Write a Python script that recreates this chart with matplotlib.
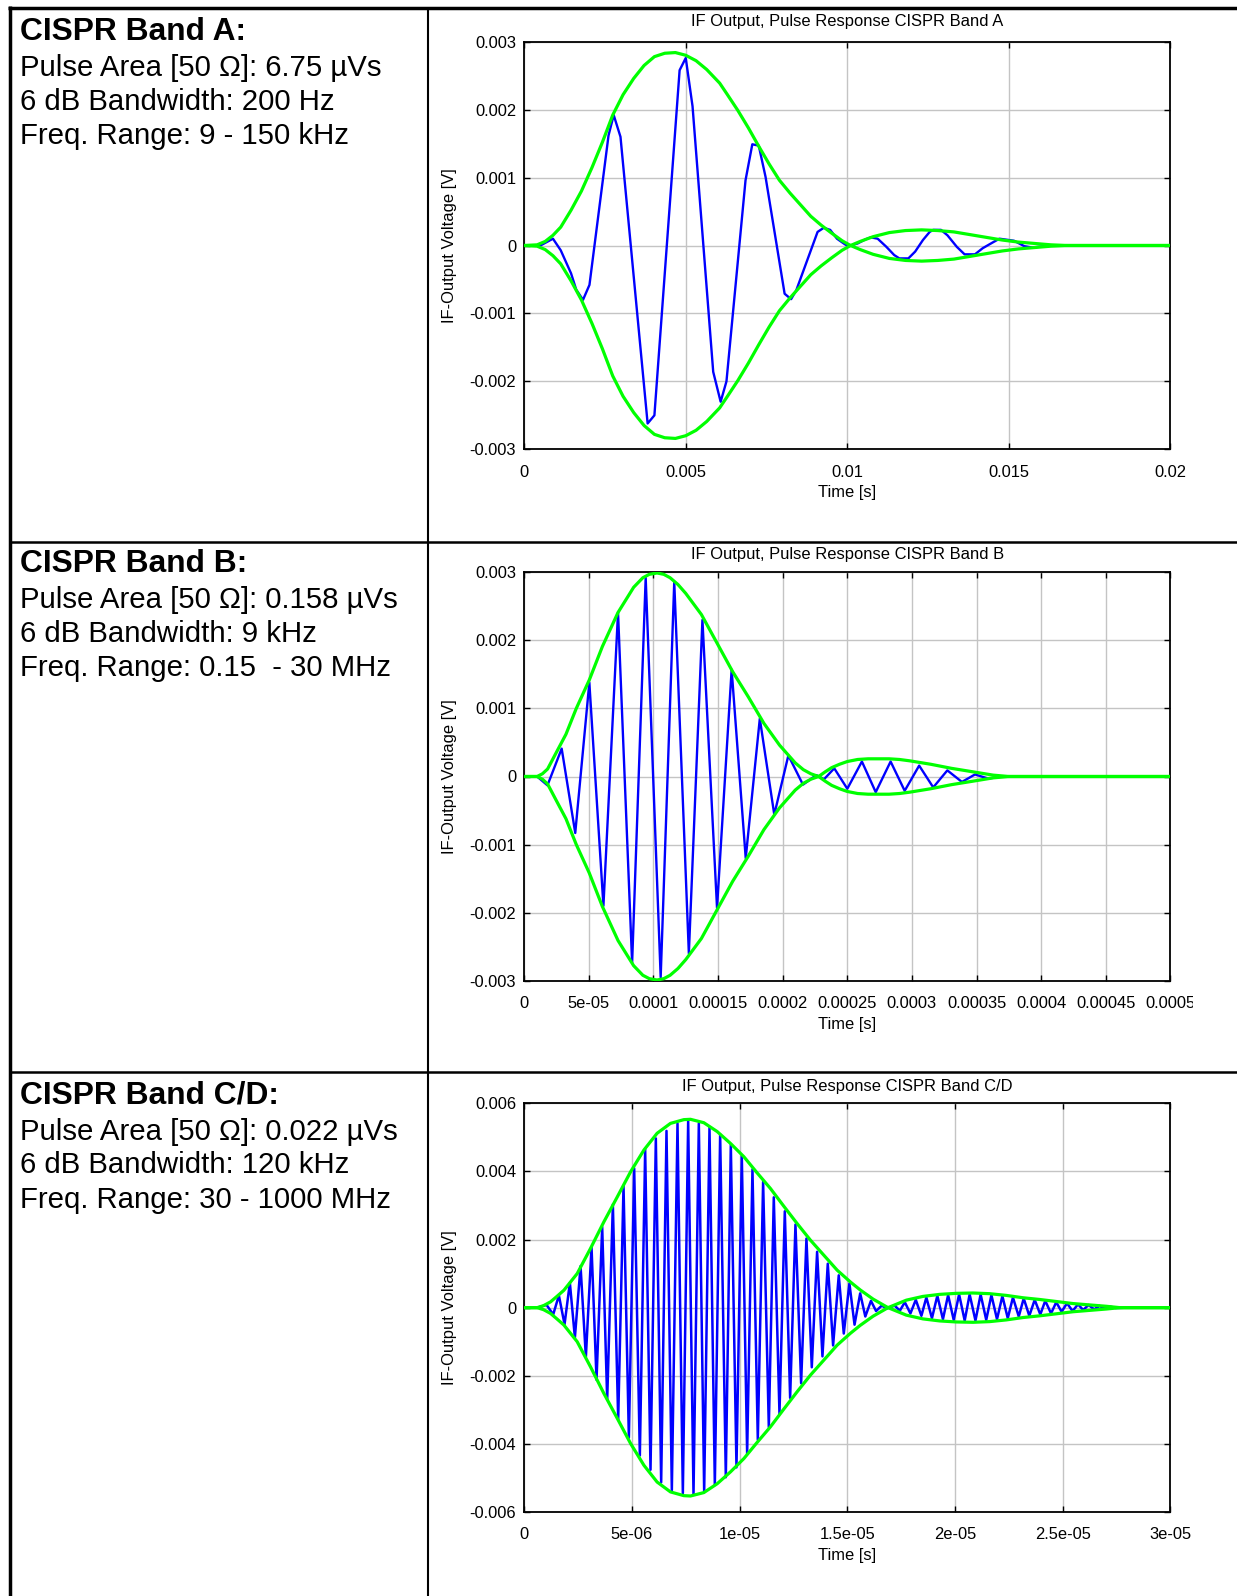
import matplotlib
matplotlib.use("Agg")
import matplotlib.pyplot as plt
from matplotlib.lines import Line2D
from matplotlib.transforms import Affine2D, Bbox, TransformedBbox

plt.rcParams['font.family'] = ['Liberation Sans', 'DejaVu Sans']

# ---------------- data ----------------
row_heads = ["CISPR Band A:", "CISPR Band B:", "CISPR Band C/D:"]
row_lines = [
    ["Pulse Area [50 \u03a9]: 6.75 \u00b5Vs", "6 dB Bandwidth: 200 Hz", "Freq. Range: 9 - 150 kHz"],
    ["Pulse Area [50 \u03a9]: 0.158 \u00b5Vs", "6 dB Bandwidth: 9 kHz", "Freq. Range: 0.15  - 30 MHz"],
    ["Pulse Area [50 \u03a9]: 0.022 \u00b5Vs", "6 dB Bandwidth: 120 kHz", "Freq. Range: 30 - 1000 MHz"],
]
titles = ["IF Output, Pulse Response CISPR Band A",
          "IF Output, Pulse Response CISPR Band B",
          "IF Output, Pulse Response CISPR Band C/D"]

# Band A
A_xticks = [0, 0.005, 0.01, 0.015, 0.02]
A_xlabels = ["0", "0.005", "0.01", "0.015", "0.02"]
A_yticks = [0.003, 0.002, 0.001, 0, -0.001, -0.002, -0.003]
A_ylabels = ["0.003", "0.002", "0.001", "0", "-0.001", "-0.002", "-0.003"]
A_sig_t = [0, 0.0005, 0.00089, 0.00113, 0.00145, 0.00161, 0.00182, 0.00202, 0.00261, 0.00277,
           0.00298, 0.00382, 0.00403, 0.00481, 0.0050, 0.00521, 0.00585, 0.00608, 0.00626, 0.00685,
           0.00706, 0.00726, 0.00747, 0.00806, 0.00826, 0.00842, 0.00908, 0.00927, 0.00947, 0.00968,
           0.00992, 0.01003, 0.01032, 0.01056, 0.01073, 0.01094, 0.01121, 0.01145, 0.01161, 0.01189,
           0.0121, 0.01234, 0.01255, 0.01266, 0.0129, 0.0131, 0.01339, 0.01363, 0.01395, 0.01419,
           0.01452, 0.01471, 0.01516, 0.01548, 0.01573, 0.0161, 0.01645, 0.02]
A_sig_v = [0, 0, 0.0001, -0.00007, -0.00041, -0.00065, -0.0008, -0.00058, 0.00162, 0.00192,
           0.0016, -0.00262, -0.0025, 0.00258, 0.00276, 0.00205, -0.00186, -0.0023, -0.002, 0.00096,
           0.00149, 0.00147, 0.00101, -0.00071, -0.00079, -0.00066, 0.0002, 0.00026, 0.00023, 0.0001,
           0.00002, -0.00001, 0.00003, 0.00009, 0.00012, 0.0001, -0.00002, -0.00014, -0.00019, -0.00019,
           -0.00009, 0.00008, 0.0002, 0.00023, 0.00023, 0.00015, -0.00002, -0.00013, -0.00013, -0.00004,
           0.00005, 0.0001, 0.00007, -0.00001, -0.00003, -0.00001, 0, 0]
A_env_t = [0, 0.0004, 0.00065, 0.00089, 0.00113, 0.00145, 0.00177, 0.0021, 0.00242, 0.00274,
           0.00306, 0.00339, 0.00371, 0.00403, 0.00435, 0.00468, 0.0050, 0.00532, 0.00565, 0.00605,
           0.00629, 0.00661, 0.00694, 0.00726, 0.00758, 0.0079, 0.00823, 0.00855, 0.00887, 0.00919,
           0.00952, 0.00984, 0.0101, 0.0104, 0.0108, 0.0113, 0.0118, 0.0123, 0.0128, 0.0133,
           0.0138, 0.0143, 0.0148, 0.0153, 0.0158, 0.0163, 0.0168, 0.02]
A_env_v = [0, 0.00001, 0.00006, 0.00015, 0.00027, 0.00052, 0.0008, 0.00115, 0.00152, 0.00192,
           0.00222, 0.00246, 0.00265, 0.00278, 0.00283, 0.00284, 0.0028, 0.00272, 0.00259, 0.00239,
           0.00222, 0.00199, 0.00173, 0.00146, 0.0012, 0.00096, 0.00077, 0.0006, 0.00043, 0.0003,
           0.00018, 0.00007, 0, -0.00006, -0.00013, -0.00019, -0.00022, -0.00023, -0.00022, -0.0002,
           -0.00016, -0.00012, -0.00008, -0.00005, -0.00003, -0.00001, 0, 0]

# Band B
B_xticks = [0, 5e-05, 0.0001, 0.00015, 0.0002, 0.00025, 0.0003, 0.00035, 0.0004, 0.00045, 0.0005]
B_xlabels = ["0", "5e-05", "0.0001", "0.00015", "0.0002", "0.00025", "0.0003", "0.00035",
             "0.0004", "0.00045", "0.0005"]
B_yticks = A_yticks
B_ylabels = A_ylabels
B_sig_t = [0, 1.0e-5, 1.8e-5, 2.9e-5, 3.95e-5, 5.04e-5, 6.13e-5, 7.26e-5, 8.35e-5, 9.4e-5,
           1.056e-4, 1.161e-4, 1.274e-4, 1.379e-4, 1.492e-4, 1.605e-4, 1.714e-4, 1.823e-4, 1.935e-4,
           2.044e-4, 2.157e-4, 2.26e-4, 2.32e-4, 2.399e-4, 2.5e-4, 2.613e-4, 2.72e-4, 2.835e-4,
           2.944e-4, 3.056e-4, 3.165e-4, 3.274e-4, 3.387e-4, 3.488e-4, 3.59e-4, 3.7e-4, 5e-4]
B_sig_v = [0, 0, -0.00013, 0.00041, -0.00083, 0.00138, -0.0019, 0.00241, -0.00274, 0.00292,
           -0.00295, 0.00286, -0.0026, 0.0023, -0.00193, 0.00157, -0.0012, 0.00085, -0.00056,
           0.00031, -0.00012, 0.00002, -0.00004, 0.00012, -0.00018, 0.00022, -0.00023, 0.00022,
           -0.00021, 0.00016, -0.00016, 0.00009, -0.00008, 0.00003, -0.00003, 0, 0]
B_env_t = [0, 1.0e-5, 1.41e-5, 1.81e-5, 2.42e-5, 3.23e-5, 4.03e-5, 5.04e-5, 6.05e-5, 7.26e-5,
           8.47e-5, 9.18e-5, 9.68e-5, 1.028e-4, 1.08e-4, 1.129e-4, 1.19e-4, 1.25e-4, 1.371e-4,
           1.492e-4, 1.613e-4, 1.734e-4, 1.855e-4, 1.976e-4, 2.097e-4, 2.16e-4, 2.218e-4, 2.278e-4,
           2.33e-4, 2.379e-4, 2.44e-4, 2.5e-4, 2.58e-4, 2.661e-4, 2.74e-4, 2.823e-4, 2.904e-4,
           2.984e-4, 3.145e-4, 3.306e-4, 3.468e-4, 3.629e-4, 3.75e-4, 5e-4]
B_env_v = [0, 0, 0.00004, 0.00011, 0.00033, 0.00062, 0.001, 0.00142, 0.00191, 0.00241,
           0.00278, 0.00292, 0.00297, 0.00299, 0.00297, 0.00292, 0.00282, 0.00269, 0.00238,
           0.00196, 0.00154, 0.00117, 0.00078, 0.00046, 0.0002, 0.0001, 0.00004, 0,
           -0.00007, -0.00013, -0.00018, -0.00022, -0.00025, -0.00026, -0.00026, -0.00026, -0.00025,
           -0.00023, -0.00018, -0.00012, -0.00007, -0.00002, 0, 0]

# Band C/D  (oscillation maxima and minima)
C_xticks = [0, 5e-06, 1e-05, 1.5e-05, 2e-05, 2.5e-05, 3e-05]
C_xlabels = ["0", "5e-06", "1e-05", "1.5e-05", "2e-05", "2.5e-05", "3e-05"]
C_yticks = [0.006, 0.004, 0.002, 0, -0.002, -0.004, -0.006]
C_ylabels = ["0.006", "0.004", "0.002", "0", "-0.002", "-0.004", "-0.006"]
C_max_t = [1.038e-6, 1.61e-6, 2.12e-6, 2.616e-6, 3.126e-6, 3.621e-6, 4.116e-6, 4.611e-6, 5.106e-6,
           5.616e-6, 6.111e-6, 6.606e-6, 7.117e-6, 7.612e-6, 8.107e-6, 8.602e-6, 9.097e-6, 9.592e-6,
           1.0102e-5, 1.0597e-5, 1.1092e-5, 1.1587e-5, 1.2098e-5, 1.2593e-5, 1.3103e-5, 1.3598e-5,
           1.4093e-5, 1.4603e-5, 1.5098e-5, 1.5598e-5, 1.6098e-5, 1.6598e-5,
           1.720e-5, 1.767e-5, 1.818e-5, 1.867e-5, 1.918e-5, 1.968e-5, 2.019e-5, 2.068e-5, 2.119e-5,
           2.169e-5, 2.220e-5, 2.269e-5, 2.319e-5, 2.370e-5, 2.419e-5, 2.470e-5, 2.520e-5, 2.571e-5,
           2.620e-5, 2.671e-5, 2.721e-5]
C_max_v = [0.00008, 0.00036, 0.00073, 0.00122, 0.00178, 0.00237, 0.00303, 0.00357, 0.00409,
           0.00465, 0.00497, 0.00519, 0.00541, 0.00549, 0.00541, 0.00529, 0.00509, 0.00479,
           0.00446, 0.00406, 0.0037, 0.00324, 0.00283, 0.00244, 0.00203, 0.00164,
           0.00129, 0.00095, 0.00071, 0.00042, 0.0002, 0.00006,
           0.00006, 0.00016, 0.00023, 0.0003, 0.00035, 0.00037, 0.00039, 0.00039, 0.00039,
           0.00037, 0.00034, 0.0003, 0.00027, 0.00023, 0.0002, 0.00016, 0.00013, 0.0001,
           0.00008, 0.00005, 0.00003]
C_min_t = [1.347e-6, 1.873e-6, 2.353e-6, 2.863e-6, 3.358e-6, 3.853e-6, 4.364e-6, 4.859e-6, 5.369e-6,
           5.864e-6, 6.359e-6, 6.854e-6, 7.365e-6, 7.860e-6, 8.355e-6, 8.850e-6, 9.360e-6, 9.855e-6,
           1.035e-5, 1.0845e-5, 1.1356e-5, 1.1851e-5, 1.2346e-5, 1.2856e-5, 1.3351e-5, 1.3846e-5,
           1.4341e-5, 1.4836e-5, 1.5336e-5, 1.5836e-5, 1.6336e-5, 1.6836e-5,
           1.744e-5, 1.793e-5, 1.844e-5, 1.893e-5, 1.944e-5, 1.994e-5, 2.045e-5, 2.095e-5, 2.145e-5,
           2.195e-5, 2.245e-5, 2.296e-5, 2.345e-5, 2.396e-5, 2.446e-5, 2.495e-5, 2.546e-5, 2.595e-5,
           2.646e-5, 2.696e-5, 2.746e-5]
C_min_v = [-0.0002, -0.00049, -0.00088, -0.00145, -0.00212, -0.00271, -0.00329, -0.00382, -0.00434,
           -0.00476, -0.00513, -0.00537, -0.00545, -0.00549, -0.00542, -0.00521, -0.00498, -0.00469,
           -0.00429, -0.00388, -0.00351, -0.00312, -0.00265, -0.00222, -0.00175, -0.00143,
           -0.00111, -0.00076, -0.0005, -0.00026, -0.0001, -0.00002,
           -0.00009, -0.00017, -0.00024, -0.00031, -0.00034, -0.00036, -0.00038, -0.00038, -0.00036,
           -0.00034, -0.00031, -0.00026, -0.00024, -0.0002, -0.00017, -0.00012, -0.0001, -0.00007,
           -0.00005, -0.00003, -0.00001]
C_flat_t = [0, 0.6e-6, 2.8e-5, 3e-5]
C_flat_v = [0, 0, 0, 0]
C_env_t = [0, 0.603e-6, 0.9e-6, 1.223e-6, 1.5e-6, 1.842e-6, 2.46e-6, 3.08e-6, 3.70e-6, 4.32e-6,
           4.94e-6, 5.56e-6, 6.17e-6, 6.79e-6, 7.41e-6, 7.72e-6, 8.34e-6, 8.96e-6, 9.58e-6, 1.02e-5,
           1.081e-5, 1.143e-5, 1.205e-5, 1.267e-5, 1.329e-5, 1.391e-5, 1.453e-5, 1.515e-5, 1.56e-5,
           1.62e-5, 1.689e-5, 1.774e-5, 1.851e-5, 1.929e-5, 2.006e-5, 2.084e-5, 2.161e-5, 2.238e-5,
           2.316e-5, 2.393e-5, 2.471e-5, 2.548e-5, 2.625e-5, 2.703e-5, 2.765e-5, 3e-5]
C_env_v = [0, 0, 0.00006, 0.00017, 0.00032, 0.00051, 0.001, 0.00174, 0.00252, 0.00325,
           0.00399, 0.00463, 0.00512, 0.00541, 0.00552, 0.00553, 0.00543, 0.00517, 0.00482, 0.00443,
           0.00396, 0.0035, 0.00298, 0.00247, 0.00198, 0.00154, 0.0011, 0.00075, 0.00052,
           0.00025, 0, -0.00022, -0.00033, -0.00039, -0.00042, -0.00043, -0.00041, -0.00036,
           -0.00029, -0.00024, -0.00018, -0.00012, -0.00008, -0.00004, 0, 0]

# ---------------- figure ----------------
W, H = 1237, 1596
fig = plt.figure(figsize=(W / 100, H / 100), dpi=100)
px = Affine2D().scale(1.0 / W, -1.0 / H).translate(0, 1) + fig.transFigure

BLUE = "#0000ff"
GREEN = "#00ff00"


def hline(y, x0, x1, lw):
    fig.add_artist(Line2D([x0, x1], [y, y], color="black", lw=lw, transform=px, solid_capstyle="butt"))


def vline(x, y0, y1, lw):
    fig.add_artist(Line2D([x, x], [y0, y1], color="black", lw=lw, transform=px, solid_capstyle="butt"))


hline(7.5, 8.3, W, 2.5)
vline(10, 6.0, H, 2.5)
vline(427.5, 7.5, H, 1.5)
hline(542, 10, W, 1.8)
hline(1072, 10, W, 1.8)

# left column text
row_offset = 531.5
body_base = [76.5, 110.0, 144.5]
for r in range(3):
    y0 = r * row_offset
    fig.text(19.5, 40.0 + y0, row_heads[r], transform=px, fontsize=22.9, fontweight="bold",
             ha="left", va="baseline")
    for k, line in enumerate(row_lines[r]):
        fig.text(19.5, body_base[k] + y0, line, transform=px, fontsize=21.2,
                 ha="left", va="baseline")

# plot panels
panel_px = [(41.7, 449.3), (572.3, 980.7), (1103.3, 1512.0)]
title_base = [26.3, 558.7, 1091.2]
AX_L, AX_R = 524.2, 1170.4


def style_axes(ax, xt, xl, yt, yl, xlim, ylim):
    ax.set_xlim(*xlim)
    ax.set_ylim(*ylim)
    ax.set_xticks(xt)
    ax.set_xticklabels(xl)
    ax.set_yticks(yt)
    ax.set_yticklabels(yl)
    ax.grid(True, color="#c4c4c4", lw=1.0)
    ax.set_axisbelow(True)
    ax.tick_params(axis="both", direction="in", length=4, width=1.0, top=True, right=True,
                   labelsize=11.9, colors="black")
    ax.tick_params(axis="x", pad=11)
    ax.tick_params(axis="y", pad=5.8)
    for s in ax.spines.values():
        s.set_linewidth(1.3)
    ax.set_xlabel("Time [s]", fontsize=11.9)
    ax.set_ylabel("IF-Output Voltage [V]", fontsize=11.9)
    ax.xaxis.set_label_coords(0.5, -0.088)
    ax.yaxis.set_label_coords(-0.104, 0.5)


axes = []
for i, (top, bot) in enumerate(panel_px):
    ax = fig.add_axes([AX_L / W, 1 - bot / H, (AX_R - AX_L) / W, (bot - top) / H])
    axes.append(ax)
    fig.text((AX_L + AX_R) / 2, title_base[i], titles[i], transform=px, fontsize=11.9,
             ha="center", va="baseline")

# Band A
ax = axes[0]
ax.plot(A_sig_t, A_sig_v, color=BLUE, lw=1.7, zorder=2)
ax.plot(A_env_t, A_env_v, color=GREEN, lw=2.3, zorder=3)
ax.plot(A_env_t, [-v for v in A_env_v], color=GREEN, lw=2.3, zorder=3)
style_axes(ax, A_xticks, A_xlabels, A_yticks, A_ylabels, (0, 0.02), (-0.003, 0.003))

# Band B
ax = axes[1]
ax.plot(B_sig_t, B_sig_v, color=BLUE, lw=1.7, zorder=2)
ax.plot(B_env_t, B_env_v, color=GREEN, lw=2.3, zorder=3)
ax.plot(B_env_t, [-v for v in B_env_v], color=GREEN, lw=2.3, zorder=3)
style_axes(ax, B_xticks, B_xlabels, B_yticks, B_ylabels, (0, 0.0005), (-0.003, 0.003))
last = ax.xaxis.get_major_ticks()[-1].label1
last.set_clip_on(True)
last.set_clip_box(TransformedBbox(Bbox([[0, 0], [1193.0 / W, 1]]), fig.transFigure))

# Band C/D
ax = axes[2]
pts = sorted(list(zip(C_max_t, C_max_v)) + list(zip(C_min_t, C_min_v)) +
             list(zip(C_flat_t, C_flat_v)))
ax.plot([p[0] for p in pts], [p[1] for p in pts], color=BLUE, lw=1.8, zorder=2)
ax.plot(C_env_t, C_env_v, color=GREEN, lw=2.3, zorder=3)
ax.plot(C_env_t, [-v for v in C_env_v], color=GREEN, lw=2.3, zorder=3)
style_axes(ax, C_xticks, C_xlabels, C_yticks, C_ylabels, (0, 3e-5), (-0.006, 0.006))

fig.savefig("out.png", dpi=100)
